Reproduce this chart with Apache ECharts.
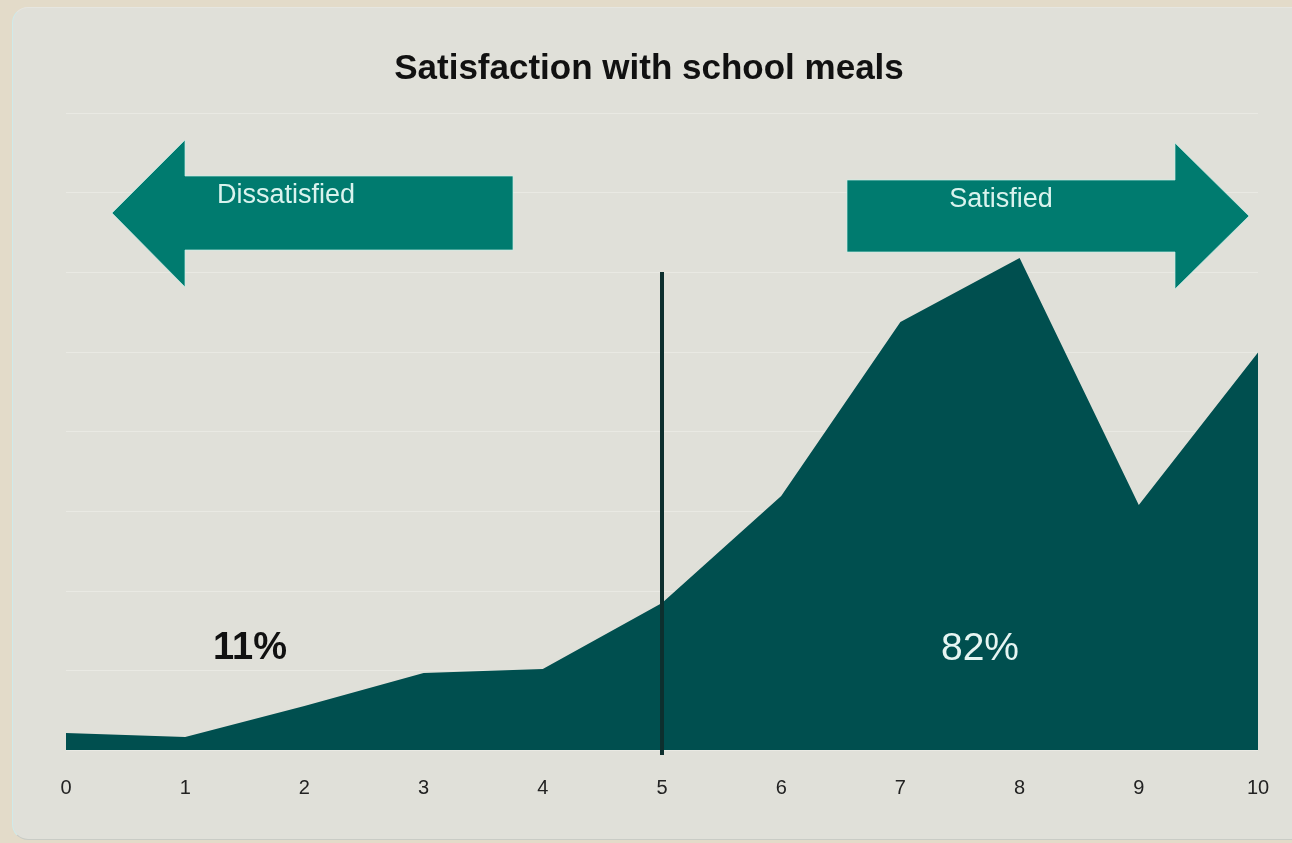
<!DOCTYPE html>
<html>
<head>
<meta charset="utf-8">
<script src="https://cdn.jsdelivr.net/npm/echarts@6/dist/echarts.min.js"></script>
<style>
  html, body { margin: 0; padding: 0; width: 1292px; height: 843px; overflow: hidden; background: #e3dbc9; }
  #panel { position: absolute; left: 12px; top: 7px; width: 1300px; height: 833px; background: #e0e0d9;
           border-radius: 16px; border-left: 1px solid #cfeaea; border-top: 1px solid #e6e6e0; border-bottom: 1px solid #c9ccc6; box-sizing: border-box; }
  #chart { position: absolute; left: 0; top: 0; width: 1292px; height: 843px; }
</style>
</head>
<body>
<div id="panel"></div>
<div id="chart"></div>
<script>
// ---- data ----
const categories = ['0', '1', '2', '3', '4', '5', '6', '7', '8', '9', '10'];
const satisfaction = [0.77, 0.59, 2.0, 3.5, 3.69, 6.69, 11.56, 19.48, 22.4, 11.15, 18.1];
const shareLabels = ['11%', '82%'];
const groupLabels = ['Dissatisfied', 'Satisfied'];
const titleText = 'Satisfaction with school meals';
const splitCategory = '5';
const splitLineRange = [-0.23, 21.76];

const chart = echarts.init(document.getElementById('chart'), null, { renderer: 'canvas' });

const FONT = '"Liberation Sans", Arial, sans-serif';
const arrowFill = '#007b6f';
const arrowStroke = 'rgba(200,240,232,0.7)';

const option = {
  backgroundColor: 'transparent',
  animation: false,
  grid: { left: 66, right: 34, top: 113, bottom: 93, containLabel: false },
  xAxis: {
    type: 'category',
    data: categories,
    boundaryGap: false,
    axisLine: { show: false },
    axisTick: { show: false },
    splitLine: { show: false },
    axisLabel: { color: '#222', fontSize: 20, fontFamily: FONT, margin: 28 }
  },
  yAxis: {
    type: 'value',
    min: 0,
    max: 29,
    interval: 3.625,
    axisLine: { show: false },
    axisTick: { show: false },
    axisLabel: { show: false },
    splitLine: { show: true, lineStyle: { color: '#e9e9e3', width: 1 } }
  },
  series: [
    {
      type: 'line',
      data: satisfaction,
      symbol: 'none',
      clip: false,
      lineStyle: { width: 0 },
      areaStyle: { color: '#004f4f', opacity: 1 },
      z: 2
    },
    {
      type: 'line',
      data: splitLineRange.map(v => [splitCategory, v]),
      symbol: 'none',
      clip: false,
      silent: true,
      lineStyle: { color: '#0d2f2e', width: 4 },
      z: 3
    }
  ],
  graphic: [
    {
      type: 'text', z: 10,
      style: { text: titleText, x: 649, y: 69, textAlign: 'center', textVerticalAlign: 'middle',
               font: 'bold 35px ' + FONT, fill: '#111' }
    },
    {
      type: 'polygon', z: 5,
      shape: { points: [[112,213],[185,140],[185,176],[513,176],[513,250],[185,250],[185,287]] },
      style: { fill: arrowFill, stroke: arrowStroke, lineWidth: 1 }
    },
    {
      type: 'polygon', z: 5,
      shape: { points: [[847,180],[1175,180],[1175,143],[1249,216],[1175,289],[1175,252],[847,252]] },
      style: { fill: arrowFill, stroke: arrowStroke, lineWidth: 1 }
    },
    {
      type: 'text', z: 6,
      style: { text: groupLabels[0], x: 217, y: 196, textAlign: 'left', textVerticalAlign: 'middle',
               font: '27px ' + FONT, fill: '#d9f3ee' }
    },
    {
      type: 'text', z: 6,
      style: { text: groupLabels[1], x: 1001, y: 200, textAlign: 'center', textVerticalAlign: 'middle',
               font: '27px ' + FONT, fill: '#d9f3ee' }
    },
    {
      type: 'text', z: 6,
      style: { text: shareLabels[0], x: 250, y: 649, textAlign: 'center', textVerticalAlign: 'middle',
               font: 'bold 38px ' + FONT, fill: '#111' }
    },
    {
      type: 'text', z: 6,
      style: { text: shareLabels[1], x: 980, y: 649, textAlign: 'center', textVerticalAlign: 'middle',
               font: '39px ' + FONT, fill: '#e6f5f2' }
    }
  ]
};
chart.setOption(option);
</script>
</body>
</html>
